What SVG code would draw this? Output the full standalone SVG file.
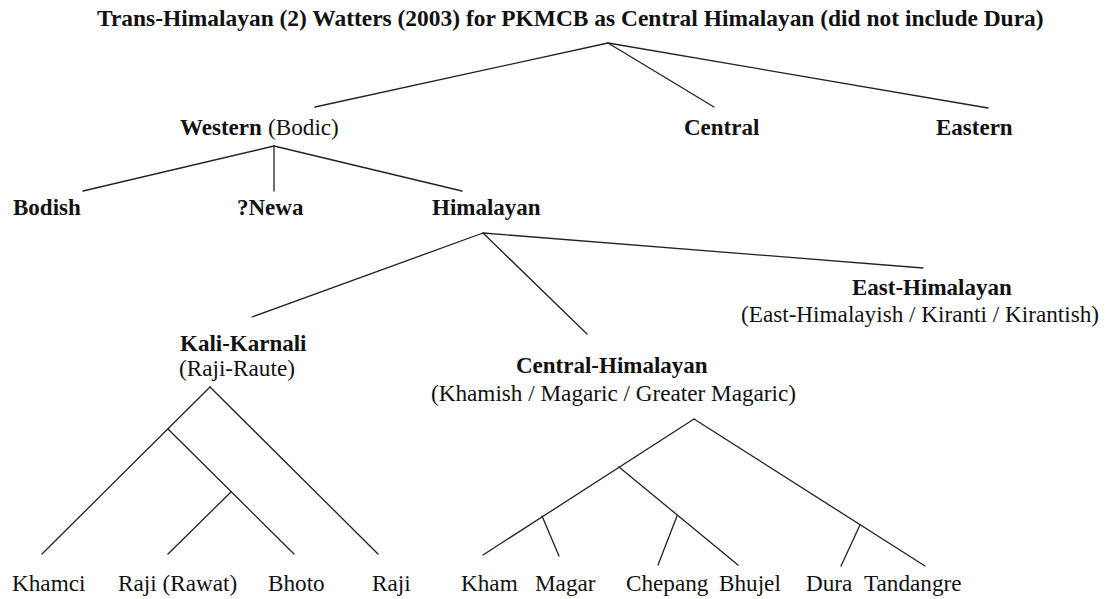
<svg xmlns="http://www.w3.org/2000/svg" width="1108" height="599" viewBox="0 0 1108 599" font-family="Liberation Serif, Times New Roman, serif">
  <style>
    text { fill: #111; }
    .b { font-weight: bold; font-size: 23px; }
    .r { font-weight: normal; font-size: 23.2px; }
    .title { font-weight: bold; font-size: 23.45px; }
    .edge { stroke: #222; stroke-width: 1.3; fill: none; stroke-linecap: round; }
  </style>
  <rect width="1108" height="599" fill="#fff"/>

  <text id="title" class="title" x="97" y="26">Trans-Himalayan (2) Watters (2003) for PKMCB as Central Himalayan (did not include Dura)</text>

  <g id="connectors" class="edge">
    <!-- root -->
    <line x1="608" y1="43" x2="315" y2="107"/>
    <line x1="608" y1="43" x2="714" y2="107"/>
    <line x1="608" y1="43" x2="988" y2="108"/>
    <!-- Western -->
    <line x1="274" y1="146" x2="83" y2="191"/>
    <line x1="274" y1="146" x2="274" y2="191"/>
    <line x1="274" y1="146" x2="462" y2="191"/>
    <!-- Himalayan -->
    <line x1="483" y1="233" x2="252" y2="317"/>
    <line x1="483" y1="233" x2="587" y2="334"/>
    <line x1="483" y1="233" x2="923" y2="268"/>
    <!-- Kali-Karnali -->
    <line x1="210" y1="387" x2="42" y2="554"/>
    <line x1="210" y1="387" x2="378" y2="554"/>
    <line x1="168" y1="429" x2="294" y2="554"/>
    <line x1="231" y1="492" x2="168" y2="554"/>
    <!-- Central-Himalayan -->
    <line x1="694" y1="419" x2="483" y2="555"/>
    <line x1="694" y1="419" x2="925" y2="566"/>
    <line x1="619" y1="467" x2="738" y2="565"/>
    <line x1="542" y1="516" x2="559" y2="556"/>
    <line x1="677" y1="516" x2="658" y2="565"/>
    <line x1="860" y1="525" x2="841" y2="566"/>
  </g>

  <g id="western">
    <text class="b" x="180" y="135">Western</text>
    <text class="r" x="268" y="135">(Bodic)</text>
  </g>
  <g id="central"><text class="b" x="684" y="135">Central</text></g>
  <g id="eastern"><text class="b" x="936" y="135">Eastern</text></g>

  <g id="bodish"><text class="b" x="13" y="215">Bodish</text></g>
  <g id="newa"><text class="b" x="237" y="215">?Newa</text></g>
  <g id="himalayan"><text class="b" x="432" y="215">Himalayan</text></g>

  <g id="east-himalayan">
    <text class="b" x="852" y="295">East-Himalayan</text>
    <text class="r" x="741" y="322">(East-Himalayish / Kiranti / Kirantish)</text>
  </g>
  <g id="kali-karnali">
    <text class="b" x="180" y="351">Kali-Karnali</text>
    <text class="r" x="179" y="376">(Raji-Raute)</text>
  </g>
  <g id="central-himalayan">
    <text class="b" x="516" y="373">Central-Himalayan</text>
    <text class="r" x="431" y="401">(Khamish / Magaric / Greater Magaric)</text>
  </g>

  <g id="khamci"><text class="r" x="12" y="591">Khamci</text></g>
  <g id="raji-rawat"><text class="r" x="118" y="591">Raji (Rawat)</text></g>
  <g id="bhoto"><text class="r" x="268" y="591">Bhoto</text></g>
  <g id="raji"><text class="r" x="372" y="591">Raji</text></g>

  <g id="kham"><text class="r" x="461" y="591">Kham</text></g>
  <g id="magar"><text class="r" x="535" y="591">Magar</text></g>
  <g id="chepang"><text class="r" x="626" y="591">Chepang</text></g>
  <g id="bhujel"><text class="r" x="719" y="591">Bhujel</text></g>
  <g id="dura"><text class="r" x="806" y="591">Dura</text></g>
  <g id="tandangre"><text class="r" x="864" y="591">Tandangre</text></g>
</svg>
